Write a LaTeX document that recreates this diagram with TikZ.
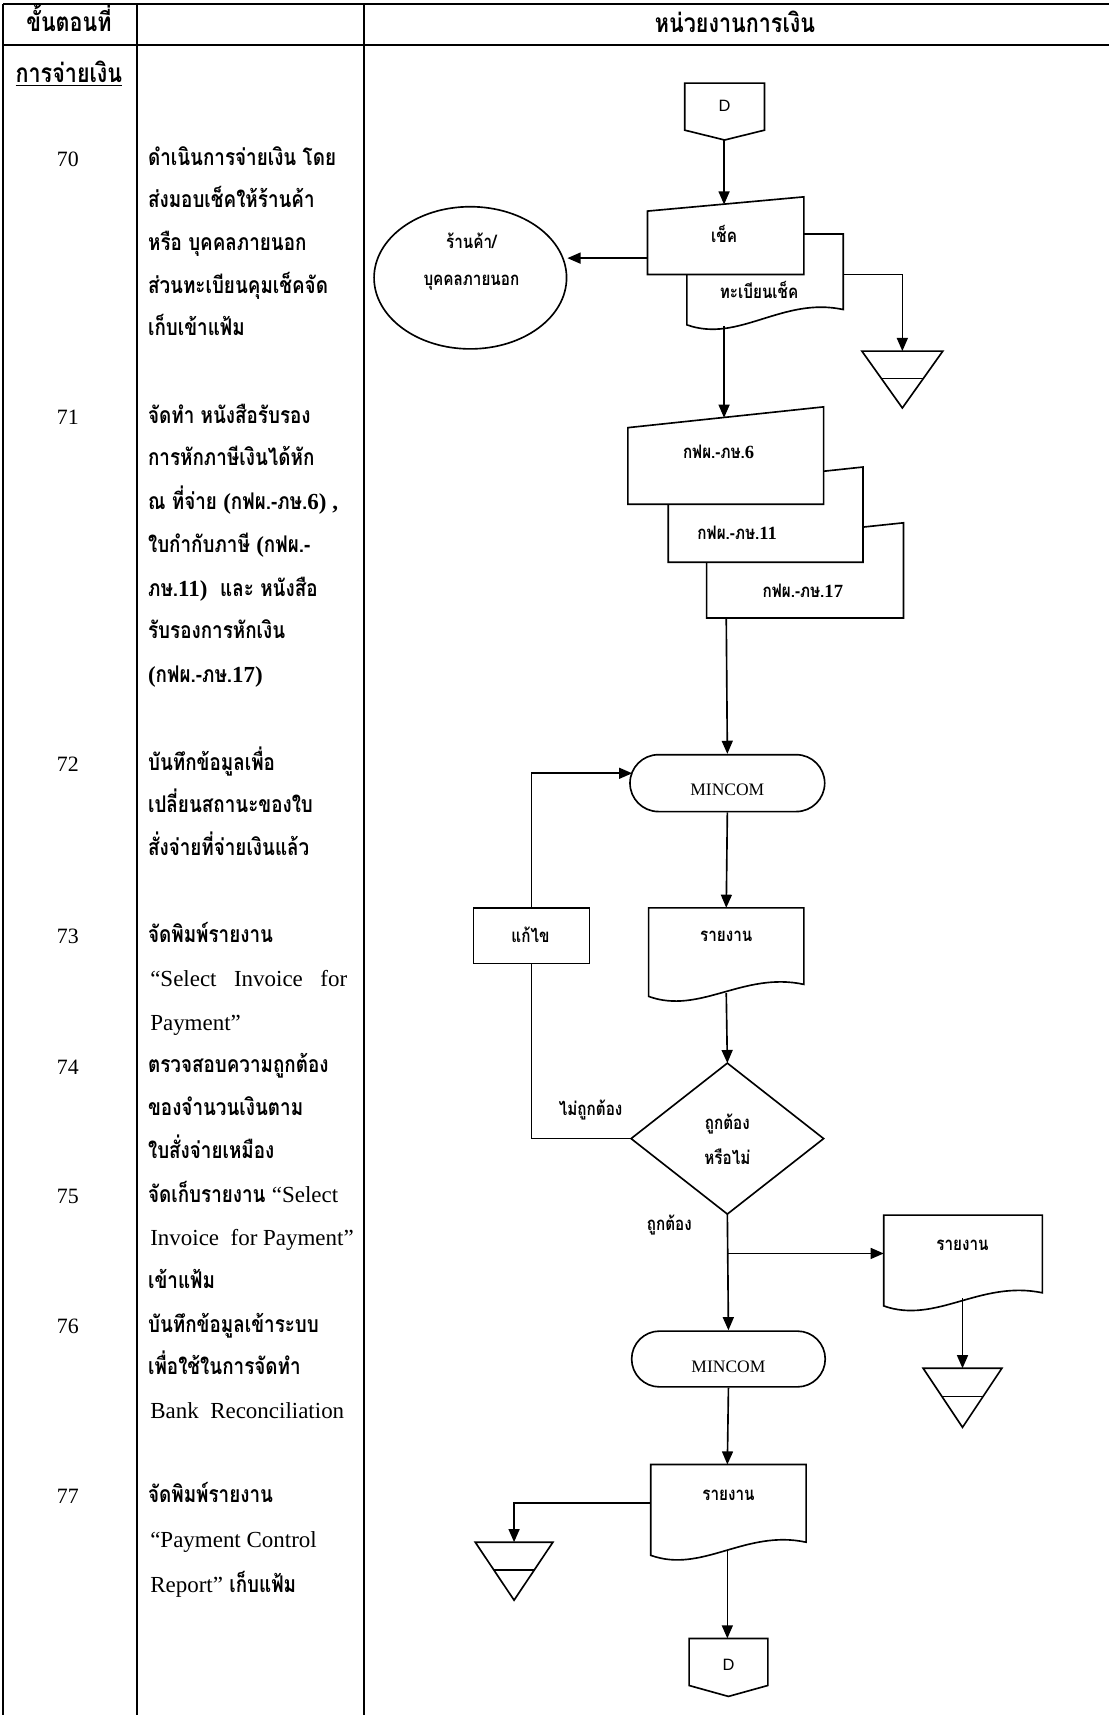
\documentclass[tikz,border=0pt]{standalone}
\usepackage{fontspec}
\setmainfont{Liberation Serif}
\newfontfamily\thaifont[Script=Thai,FakeStretch=0.82]{Loma}
\newfontfamily\dsans{Liberation Sans}
\usetikzlibrary{arrows.meta,shapes.geometric}
% Latin words and figures inside Thai lines
\newcommand\en[1]{{\rmfamily\mdseries #1}}
\newcommand\enb[1]{{\rmfamily\bfseries #1}}
% document symbol: x-left, x-right, y-top, y-right-bottom, y-left-bottom
\newcommand\docshape[5]{%
  \path[shp] (#1,#3) -- (#2,#3) -- (#2,#4)
    .. controls ({#1+0.61*(#2-#1)},{#4-12}) and ({#1+0.33*(#2-#1)},{#5+17}) .. (#1,#5) -- cycle;}
% file (merge) symbol: apex x, top y, half width, height
\newcommand\fileshape[4]{%
  \path[shp] ({#1-#3},#2) -- ({#1+#3},#2) -- (#1,{#2+#4}) -- cycle;
  \draw[flow] ({#1-0.52*#3},{#2+0.48*#4}) -- ({#1+0.52*#3},{#2+0.48*#4});}

\begin{document}
\begin{tikzpicture}[x=0.5pt,y=-0.5pt,
  rule/.style={line width=0.9pt},
  flow/.style={line width=0.75pt},
  arr/.style={flow,-{Triangle[length=6pt,width=5pt]}},
  shp/.style={draw,line width=0.75pt,fill=white},
  desc/.style={anchor=base west,inner sep=0pt,font=\thaifont\bfseries\fontsize{10.5}{12}\selectfont},
  num/.style={anchor=base,inner sep=0pt,font=\fontsize{10}{12}\selectfont},
  hdr/.style={anchor=base,inner sep=0pt,font=\thaifont\bfseries\fontsize{12}{14}\selectfont},
  lbl/.style={anchor=base,inner sep=0pt,font=\thaifont\bfseries\fontsize{8.5}{10}\selectfont},
  mc/.style={anchor=base,inner sep=0pt,font=\fontsize{8}{10}\selectfont},
  dl/.style={anchor=base,inner sep=0pt,font=\dsans\fontsize{7.5}{9}\selectfont},
]
\useasboundingbox (0,0) rectangle (1014,1568);

% ---------- table frame ----------
\draw[rule] (3,4) -- (1014,4);
\draw[rule] (3,41) -- (1014,41);
\draw[rule] (3,4) -- (3,1568);
\draw[rule] (125,4) -- (125,1568);
\draw[rule] (333,4) -- (333,1568);

\node[hdr] (hstep) at (63,29) {ขั้นตอนที่};
\node[hdr] (hunit) at (672,30) {หน่วยงานการเงิน};
\node[hdr] (hsec) at (63,75) {\underline{การจ่ายเงิน}};

% ---------- step numbers ----------
\node[num] (n70) at (62,152) {70};
\node[num] (n71) at (62,388) {71};
\node[num] (n72) at (62,705) {72};
\node[num] (n73) at (62,863) {73};
\node[num] (n74) at (62,982) {74};
\node[num] (n75) at (62,1100) {75};
\node[num] (n76) at (62,1219) {76};
\node[num] (n77) at (62,1375) {77};

% ---------- step descriptions ----------
\node[desc] (d70a) at (135,151) {ดำเนินการจ่ายเงิน โดย};
\node[desc] (d70b) at (135,190) {ส่งมอบเช็คให้ร้านค้า};
\node[desc] (d70c) at (135,229) {หรือ บุคคลภายนอก};
\node[desc] (d70d) at (135,268) {ส่วนทะเบียนคุมเช็คจัด};
\node[desc] (d70e) at (135,307) {เก็บเข้าแฟ้ม};

\node[desc] (d71a) at (135,387) {จัดทำ หนังสือรับรอง};
\node[desc] (d71b) at (135,426) {การหักภาษีเงินได้หัก};
\node[desc] (d71c) at (135,466) {ณ ที่จ่าย \enb{(}กฟผ.-ภษ.\enb{6) ,}};
\node[desc] (d71d) at (135,505) {ใบกำกับภาษี \enb{(}กฟผ.-};
\node[desc] (d71e) at (135,545) {ภษ.\enb{11)}\ \ และ หนังสือ};
\node[desc] (d71f) at (135,584) {รับรองการหักเงิน};
\node[desc] (d71g) at (135,624) {\enb{(}กฟผ.-ภษ.\enb{17)}};

\node[desc] (d72a) at (135,704) {บันทึกข้อมูลเพื่อ};
\node[desc] (d72b) at (135,743) {เปลี่ยนสถานะของใบ};
\node[desc] (d72c) at (135,782) {สั่งจ่ายที่จ่ายเงินแล้ว};

\node[desc] (d73a) at (135,862) {จัดพิมพ์รายงาน};
\node[desc] (d73b) at (137,902) {\en{\makebox[90pt][s]{“Select Invoice for}}};
\node[desc] (d73c) at (137,942) {\en{Payment”}};

\node[desc] (d74a) at (135,981) {ตรวจสอบความถูกต้อง};
\node[desc] (d74b) at (135,1020) {ของจำนวนเงินตาม};
\node[desc] (d74c) at (135,1059) {ใบสั่งจ่ายเหมือง};

\node[desc] (d75a) at (135,1099) {จัดเก็บรายงาน \en{“Select}};
\node[desc] (d75b) at (137,1139) {\en{Invoice\ \ for Payment”}};
\node[desc] (d75c) at (135,1178) {เข้าแฟ้ม};

\node[desc] (d76a) at (135,1218) {บันทึกข้อมูลเข้าระบบ};
\node[desc] (d76b) at (135,1257) {เพื่อใช้ในการจัดทำ};
\node[desc] (d76c) at (137,1297) {\en{Bank\ \ Reconciliation}};

\node[desc] (d77a) at (135,1374) {จัดพิมพ์รายงาน};
\node[desc] (d77b) at (137,1415) {\en{“Payment Control}};
\node[desc] (d77c) at (137,1456) {\en{Report”} เก็บแฟ้ม};

% ---------- flowchart: shapes ----------
% off-page connector (top)
\path[shp] (626,76) -- (699,76) -- (699,119) -- (662.5,128) -- (626,119) -- cycle;
\node[dl] (D1) at (662.5,102) {D};
\coordinate (D1s) at (662,128);

% cheque register (document) behind the cheque
\docshape{628}{771}{214}{283}{297}
\node[lbl] (reg) at (694,273) {ทะเบียนเช็ค};
\coordinate (regE) at (771,251);
\coordinate (regS) at (662,298);
% cheque (manual input)
\path[shp] (592,193) -- (735,180) -- (735,251) -- (592,251) -- cycle;
\node[lbl] (chk) at (662,222) {เช็ค};
\coordinate (chkN) at (662,187);
\coordinate (chkW) at (592,236);

% outside party
\node[shp,ellipse,minimum width=88pt,minimum height=65pt,inner sep=0pt] (shop) at (430,254) {};
\node[lbl] (shopa) at (431,227) {ร้านค้า/};
\node[lbl] (shopb) at (431,261) {บุคคลภายนอก};

% file for cheque register
\fileshape{825}{321}{37}{52}
\coordinate (f1N) at (825,321);

% tax forms (manual inputs, stacked)
\path[shp] (646,497) -- (826,478) -- (826,565) -- (646,565) -- cycle;
\path[shp] (611,446) -- (789,427) -- (789,514) -- (611,514) -- cycle;
\path[shp] (574,391) -- (753,372) -- (753,461) -- (574,461) -- cycle;
\node[lbl] (g6) at (657,419) {กฟผ.-ภษ.\enb{6}};
\node[lbl] (g11) at (674,493) {กฟผ.-ภษ.\enb{11}};
\node[lbl] (g17) at (734,546) {กฟผ.-ภษ.\enb{17}};
\coordinate (g6N) at (662,382);
\coordinate (g17S) at (664,565);

% MINCOM (first)
\node[shp,rounded corners=13pt,minimum width=89pt,minimum height=26pt,inner sep=0pt] (m1) at (665,716) {};
\node[mc] (m1t) at (665,727) {MINCOM};
\coordinate (m1in) at (578,707);

% correction box
\node[shp,minimum width=53pt,minimum height=25.5pt,inner sep=0pt] (fix) at (486,855.5) {};
\node[lbl] (fixt) at (485,862) {แก้ไข};

% report (first)
\docshape{593}{735}{830}{900}{911}
\node[lbl] (r1) at (664,861) {รายงาน};
\coordinate (r1N) at (664,830);
\coordinate (r1S) at (664,908);

% decision
\path[shp] (665,972) -- (753,1041) -- (665,1110) -- (577,1041) -- cycle;
\node[lbl] (dia1) at (665,1033) {ถูกต้อง};
\node[lbl] (dia2) at (665,1065) {หรือไม่};
\coordinate (diaN) at (665,972);
\coordinate (diaW) at (577,1041);
\coordinate (diaS) at (665,1110);
\node[lbl] (no) at (540,1020) {ไม่ถูกต้อง};
\node[lbl] (yes) at (612,1125) {ถูกต้อง};
\coordinate (split) at (665,1146);

% report (second) and its file
\docshape{808}{953}{1111}{1182}{1194}
\node[lbl] (r2) at (880,1143) {รายงาน};
\coordinate (r2W) at (808,1146);
\coordinate (r2S) at (880,1187);
\fileshape{880}{1251}{36}{54}
\coordinate (f2N) at (880,1251);

% MINCOM (second)
\node[shp,rounded corners=12.75pt,minimum width=88.5pt,minimum height=25.5pt,inner sep=0pt] (m2) at (666,1242.5) {};
\node[mc] (m2t) at (666,1255) {MINCOM};

% report (third) and its file
\docshape{595}{737}{1339}{1410}{1422}
\node[lbl] (r3) at (666,1372) {รายงาน};
\coordinate (r3N) at (665,1339);
\coordinate (r3W) at (595,1374);
\coordinate (r3S) at (665,1417);
\fileshape{470}{1410}{35.5}{53}
\coordinate (f3N) at (470,1410);

% off-page connector (bottom)
\path[shp] (630,1498) -- (702,1498) -- (702,1541) -- (666,1551) -- (630,1541) -- cycle;
\node[dl] (D2) at (666,1527) {D};
\coordinate (D2N) at (665,1498);

% ---------- flowchart: connectors ----------
\draw[arr] (D1s) -- (chkN);
\draw[arr] (chkW) -- (chkW -| shop.east);
\draw[arr] (regE) -| (f1N);
\draw[arr] (regS) -- (g6N);
\draw[arr] (g17S) -- (m1.north);
\draw[arr] (fix.north) |- (m1in);
\draw[arr] (m1.south) -- (r1N);
\draw[arr] (r1S) -- (diaN);
\draw[flow] (diaW) -| (fix.south);
\draw[arr] (diaS) -- (m2.north);
\draw[arr] (split) -- (r2W);
\draw[arr] (r2S) -- (f2N);
\draw[arr] (m2.south) -- (r3N);
\draw[arr] (r3W) -| (f3N);
\draw[arr] (r3S) -- (D2N);
\end{tikzpicture}
\end{document}
